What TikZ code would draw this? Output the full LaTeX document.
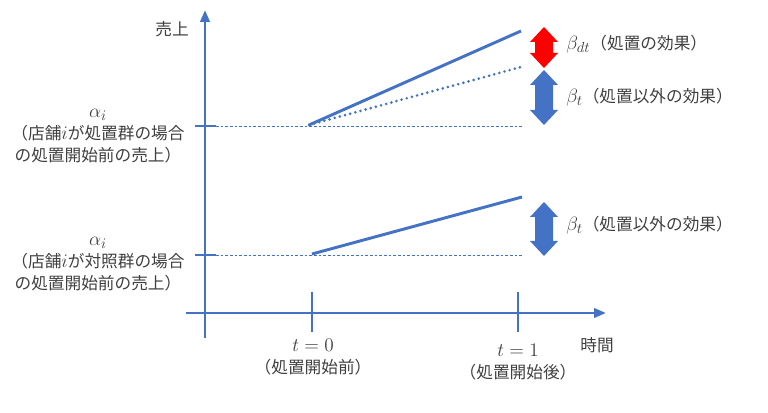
\documentclass[tikz,border=0pt]{standalone}
\usepackage{fontspec}
\setmainfont{Noto Sans CJK JP}
\usetikzlibrary{arrows.meta}
\definecolor{myblue}{HTML}{4472C4}
\definecolor{mytext}{HTML}{404040}
\newcommand\mth[1]{{\fontsize{15.5}{16}\selectfont$#1$}}
\tikzset{
  axis/.style={myblue,line width=2.2pt},
  trend/.style={myblue,line width=2.2pt},
  tick/.style={myblue,line width=0.9pt},
  guide/.style={myblue,line width=0.5pt,dash pattern=on 2pt off 1.5pt},
  lbl/.style={text=mytext,font=\fontsize{12.5}{16.5}\selectfont,inner sep=0pt}
}
\begin{document}
\begin{tikzpicture}[x=0.75pt,y=-0.75pt]
\useasboundingbox (0,0) rectangle (768,413);
% axes
\draw[axis,-{Triangle[length=9pt,width=7pt]}] (205,338) -- (205,10);
\draw[axis,-{Triangle[length=9pt,width=7pt]}] (186,313) -- (606,313);
\foreach \x in {312,518}
  \draw[tick] (\x,292) -- (\x,332);
\foreach \y in {126,255}
  \draw[tick] (195,\y) -- (216,\y);
% guides
\draw[guide] (216,126) -- (523,126);
\draw[guide] (216,255) -- (523,255);
% lines
\coordinate (s1) at (309,125);
\coordinate (e1) at (521,31);
\coordinate (e2) at (521,67);
\coordinate (s3) at (312,254);
\coordinate (e3) at (522,197);
\draw[trend] (s1) -- (e1);
\draw[trend,line cap=round,dash pattern=on 0pt off 4pt] (s1) -- (e2);
\draw[trend] (s3) -- (e3);
% effect arrows
\foreach \ya/\yb/\col in {27/68/red,70/125/myblue,202/256/myblue}
  \fill[\col] (544,\ya) -- (558,\ya+15) -- (553,\ya+15) -- (553,\yb-15) -- (558,\yb-15)
    -- (544,\yb) -- (530,\yb-15) -- (535,\yb-15) -- (535,\ya+15) -- (530,\ya+15) -- cycle;
% labels
\node[lbl] (sales) at (172,29) {売上};
\node[lbl] (time) at (597,345) {時間};
\node[lbl,anchor=west] (bdt) at (566,44) {\mth{\beta_{dt}}（処置の効果）};
\node[lbl,anchor=west] (bt1) at (566,97) {\mth{\beta_t}（処置以外の効果）};
\node[lbl,anchor=west] (bt2) at (566,225) {\mth{\beta_t}（処置以外の効果）};
\node[lbl,align=center] (t0) at (313,357) {\mth{t=0}\\（処置開始前）};
\node[lbl,align=center] (t1) at (518,362) {\mth{t=1}\\（処置開始後）};
\node[lbl,align=center] (a1) at (98,136) {\mth{\alpha_i}\\（店舗\mth{i}が処置群の場合\\の処置開始前の売上）};
\node[lbl,align=center] (a2) at (98,264) {\mth{\alpha_i}\\（店舗\mth{i}が対照群の場合\\の処置開始前の売上）};
\end{tikzpicture}
\end{document}
